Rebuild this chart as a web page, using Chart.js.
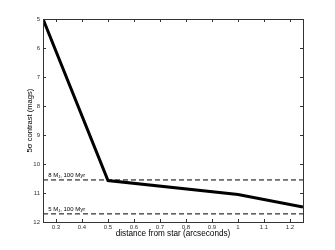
<!DOCTYPE html>
<html>
<head>
<meta charset="utf-8">
<script src="https://cdn.jsdelivr.net/npm/chart.js@4/dist/chart.umd.min.js"></script>
<style>
  html, body { margin: 0; padding: 0; background: #fff; }
  #wrap { width: 335px; height: 250px; }
</style>
</head>
<body>
<div id="wrap"><canvas id="myChart" width="335" height="250"></canvas></div>
<script>
// Data: contrast curve
const distance = [0.25, 0.5, 1.0, 1.25];
const contrast = [5.0, 10.57, 11.05, 11.48];

// Reference mass limits
const limitNames = ['8 M', '5 M'];
const limitValues = [10.55, 11.72];

const xTicks = [0.3, 0.4, 0.5, 0.6, 0.7, 0.8, 0.9, 1.0, 1.1, 1.2];
const yTicks = [5, 6, 7, 8, 9, 10, 11, 12];

const fontFam = '"Liberation Sans", Arial, sans-serif';

// Inward tick marks on all four sides plus the limit labels
const boxTicks = {
    id: 'boxTicks',
    afterDraw(chart) {
        const ctx = chart.ctx;
        const a = chart.chartArea;
        const xs = chart.scales.x, ys = chart.scales.y;
        ctx.save();
        ctx.strokeStyle = '#333';
        ctx.lineWidth = 1;
        ctx.strokeRect(Math.round(a.left) + 0.5, Math.round(a.top) + 0.5,
            Math.round(a.right - a.left), Math.round(a.bottom - a.top));
        ctx.beginPath();
        xTicks.forEach(v => {
            const px = Math.round(xs.getPixelForValue(v)) + 0.5;
            ctx.moveTo(px, a.bottom); ctx.lineTo(px, a.bottom - 3);
            ctx.moveTo(px, a.top); ctx.lineTo(px, a.top + 3);
        });
        yTicks.forEach(v => {
            const py = Math.round(ys.getPixelForValue(v)) + 0.5;
            ctx.moveTo(a.left, py); ctx.lineTo(a.left + 3, py);
            ctx.moveTo(a.right, py); ctx.lineTo(a.right - 3, py);
        });
        ctx.stroke();

        // labels above the dashed lines
        ctx.fillStyle = '#000';
        ctx.textBaseline = 'alphabetic';
        limitNames.forEach((name, i) => {
            let x = xs.getPixelForValue(0.27);
            const y = ys.getPixelForValue(limitValues[i]) - 3;
            ctx.font = '6px ' + fontFam;
            ctx.fillText(name, x, y);
            x += ctx.measureText(name).width;
            ctx.font = '4px ' + fontFam;
            ctx.fillText('J', x, y + 1.5);
            x += ctx.measureText('J').width;
            ctx.font = '6px ' + fontFam;
            ctx.fillText(', 100 Myr', x, y);
        });
        ctx.restore();
    }
};

document.addEventListener('DOMContentLoaded', function () {
    const ctx = document.getElementById('myChart').getContext('2d');
    const limitSets = limitValues.map(v => ({
        data: [{x: 0.25, y: v}, {x: 1.25, y: v}],
        borderColor: '#000',
        borderWidth: 1,
        borderDash: [5, 3],
        pointRadius: 0
    }));
    new Chart(ctx, {
        type: 'line',
        data: {
            datasets: [{
                data: distance.map((d, i) => ({x: d, y: contrast[i]})),
                borderColor: '#000',
                borderWidth: 3,
                pointRadius: 0,
                tension: 0
            }].concat(limitSets)
        },
        options: {
            responsive: false,
            animation: false,
            layout: { padding: { left: 0, right: 32, top: 19, bottom: 0 } },
            plugins: { legend: { display: false }, tooltip: { enabled: false } },
            scales: {
                x: {
                    type: 'linear',
                    min: 0.25,
                    max: 1.25,
                    grid: { display: false, drawTicks: false },
                    border: { display: false },
                    afterBuildTicks: s => { s.ticks = xTicks.map(v => ({value: v})); },
                    afterFit: s => { s.height = 28; },
                    ticks: {
                        color: '#333',
                        font: { family: fontFam, size: 6 },
                        padding: 2,
                        maxRotation: 0,
                        callback: v => String(v)
                    },
                    title: {
                        display: true,
                        text: 'distance from star (arcseconds)',
                        color: '#000',
                        font: { family: fontFam, size: 8.2 },
                        padding: { top: 0, bottom: 11 }
                    }
                },
                y: {
                    reverse: true,
                    min: 5,
                    max: 12,
                    grid: { display: false, drawTicks: false },
                    border: { display: false },
                    afterBuildTicks: s => { s.ticks = yTicks.map(v => ({value: v})); },
                    afterFit: s => { s.width = 43; },
                    ticks: {
                        color: '#333',
                        font: { family: fontFam, size: 6 },
                        padding: 3
                    },
                    title: {
                        display: true,
                        text: '5σ contrast (mags)',
                        color: '#000',
                        font: { family: fontFam, size: 7.6 },
                        padding: { top: 25, bottom: 0 }
                    }
                }
            }
        },
        plugins: [boxTicks]
    });
});
</script>
</body>
</html>
